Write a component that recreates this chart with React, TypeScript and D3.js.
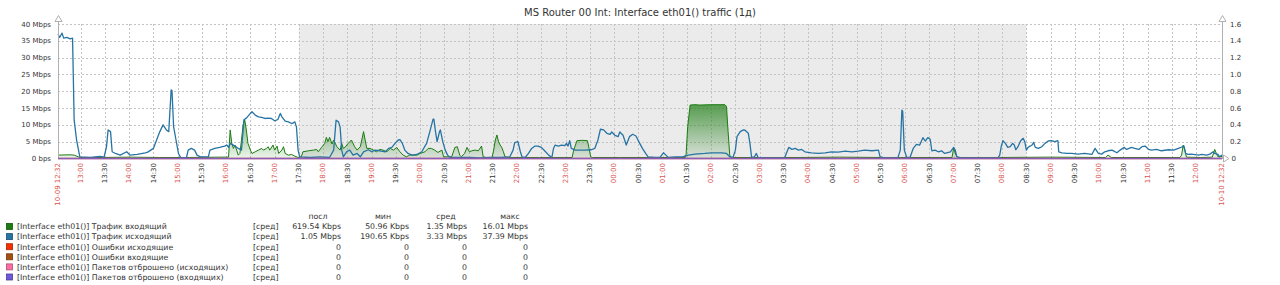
import React from "react";
import * as d3 from "d3";

const W = 1280;
const H = 285;

const chartTitle = "MS Router 00 Int: Interface eth01() traffic (1д)";
const startTime = new Date(2023, 9, 9, 12, 32);
const periodMinutes = 1440;
// non-working time shading, minutes from start (17:30 .. 08:30)
const shadeMinutes = [298, 1198];

const leftTicks = [0, 5, 10, 15, 20, 25, 30, 35, 40];
const rightTicks = [0, 0.2, 0.4, 0.6, 0.8, 1.0, 1.2, 1.4, 1.6];

// [minutes from start, Mbps]
const outTraffic: [number, number][] = [
  [0, 37.0], [2, 36.0], [5, 37.3], [7, 35.8], [11, 36.0], [15, 35.6], [18, 35.8], [20, 11.4], [23, 5.5], [27, 0.5],
  [40, 0.3], [52, 0.6], [57, 0.4], [60, 3.5], [62, 8.5], [65, 8.0], [67, 2.0], [71, 1.5], [77, 1.0], [85, 2.0],
  [89, 1.0], [98, 1.2], [108, 1.7], [111, 1.9], [118, 3.0], [122, 5.5], [126, 8.0], [130, 10.0], [134, 8.5], [137, 8.0],
  [140, 20.4], [141, 20.2], [143, 9.5], [146, 5.5], [149, 1.5], [152, 0.2], [159, 0.3], [161, 2.5], [165, 3.0], [169, 2.5],
  [172, 1.0], [176, 0.5], [186, 0.5], [188, 2.5], [194, 3.0], [200, 3.3], [206, 3.7], [209, 4.0], [211, 3.3], [213, 4.5],
  [219, 3.7], [223, 3.0], [227, 2.5], [230, 11.5], [233, 12.0], [238, 13.4], [240, 13.9], [244, 12.9], [248, 12.4], [252, 12.2],
  [256, 11.9], [260, 12.0], [264, 11.9], [268, 11.2], [272, 11.6], [275, 13.4], [277, 12.4], [281, 11.1], [285, 10.9], [289, 10.4],
  [291, 10.6], [293, 10.9], [295, 9.4], [297, 2.5], [299, 0.5], [312, 0.3], [324, 0.5], [336, 0.3], [341, 2.5], [344, 11.4],
  [347, 10.9], [349, 9.4], [351, 2.5], [353, 0.5], [357, 2.0], [361, 2.5], [365, 1.0], [370, 1.5], [374, 0.5], [378, 2.0],
  [384, 2.6], [388, 2.0], [392, 2.5], [398, 2.3], [405, 2.0], [409, 3.0], [413, 3.3], [417, 4.5], [421, 5.5], [423, 5.6],
  [426, 4.5], [429, 2.5], [433, 1.5], [438, 1.0], [444, 1.2], [450, 2.0], [456, 4.5], [460, 8.0], [464, 11.7], [465, 11.7],
  [467, 8.0], [469, 5.0], [472, 8.0], [473, 8.5], [476, 5.0], [479, 2.5], [482, 1.0], [485, 0.3], [497, 0.3], [510, 0.3],
  [522, 0.2], [534, 0.3], [547, 0.3], [559, 0.5], [563, 2.5], [565, 4.7], [569, 5.0], [572, 2.0], [574, 0.5], [578, 0.3],
  [582, 1.5], [586, 3.0], [590, 3.7], [594, 3.7], [598, 3.3], [602, 2.3], [607, 1.0], [611, 0.3], [613, 3.0], [615, 4.0],
  [619, 3.7], [623, 4.0], [627, 3.8], [629, 4.5], [631, 3.7], [633, 5.3], [635, 3.0], [640, 2.5], [652, 2.5], [660, 2.6],
  [664, 3.0], [668, 5.5], [671, 8.7], [675, 8.5], [679, 7.5], [683, 7.2], [685, 7.9], [689, 6.9], [693, 6.5], [695, 7.9],
  [699, 6.9], [703, 4.0], [707, 6.5], [711, 7.2], [715, 6.7], [719, 4.8], [723, 3.0], [727, 1.5], [730, 0.5], [739, 0.3],
  [745, 0.4], [749, 1.7], [752, 1.0], [755, 0.3], [764, 0.5], [773, 0.5], [776, 0.8], [780, 1.0], [788, 1.3], [800, 1.5],
  [809, 1.7], [821, 1.7], [827, 1.5], [831, 0.5], [835, 0.3], [838, 2.5], [840, 6.5], [844, 8.0], [848, 8.5], [850, 8.4],
  [854, 7.5], [856, 4.5], [858, 0.5], [861, 0.3], [864, 1.5], [866, 0.3], [881, 0.2], [899, 0.2], [901, 1.5], [904, 3.3],
  [908, 2.7], [912, 3.0], [916, 2.5], [920, 2.7], [924, 2.0], [932, 1.7], [941, 1.5], [949, 1.7], [957, 2.0], [965, 1.9],
  [974, 2.2], [982, 2.0], [990, 2.2], [998, 2.5], [1007, 2.3], [1015, 2.5], [1017, 0.5], [1023, 0.2], [1039, 0.2], [1042, 2.5],
  [1044, 14.4], [1045, 14.0], [1047, 2.5], [1050, 0.3], [1054, 0.3], [1058, 3.0], [1062, 4.2], [1066, 4.0], [1070, 6.2], [1073, 5.2],
  [1076, 6.2], [1079, 5.7], [1081, 2.3], [1085, 2.5], [1089, 2.0], [1093, 2.3], [1097, 1.5], [1104, 2.0], [1108, 3.3], [1110, 2.5],
  [1112, 0.5], [1118, 0.2], [1141, 0.2], [1163, 0.2], [1165, 1.0], [1167, 3.7], [1169, 5.3], [1172, 4.5], [1175, 3.3], [1178, 3.5],
  [1181, 4.5], [1183, 4.0], [1185, 2.6], [1188, 3.7], [1191, 5.3], [1194, 6.0], [1196, 5.0], [1198, 2.5], [1200, 3.3], [1205, 4.0],
  [1207, 4.8], [1209, 3.3], [1213, 3.0], [1217, 3.5], [1221, 4.5], [1225, 5.2], [1229, 5.3], [1233, 5.0], [1237, 5.3], [1238, 2.0],
  [1242, 1.7], [1248, 1.5], [1254, 1.5], [1262, 1.3], [1270, 1.5], [1279, 1.2], [1283, 3.0], [1287, 1.5], [1291, 1.3], [1295, 2.0],
  [1299, 2.3], [1304, 2.5], [1310, 1.7], [1314, 2.5], [1319, 3.3], [1322, 2.7], [1328, 3.3], [1332, 3.0], [1337, 2.7], [1341, 3.5],
  [1345, 3.7], [1349, 2.7], [1353, 2.5], [1359, 2.7], [1365, 2.3], [1374, 2.6], [1380, 2.5], [1386, 3.0], [1391, 3.5], [1393, 3.7],
  [1395, 1.5], [1398, 1.2], [1402, 1.3], [1411, 1.0], [1415, 1.2], [1421, 1.0], [1425, 1.3], [1429, 2.0], [1431, 1.5], [1435, 1.2],
  [1437, 0.5], [1440, 1.05],
];

const inTraffic: [number, number][] = [
  [0, 1.0], [15, 1.1], [20, 1.0], [25, 0.5], [27, 0.3], [52, 0.3], [89, 0.4], [126, 0.3], [163, 0.3], [200, 0.4],
  [211, 0.4], [212, 4.5], [213, 8.5], [215, 4.5], [217, 3.0], [219, 4.0], [221, 2.5], [223, 1.0], [225, 1.5], [227, 5.5],
  [229, 10.0], [231, 11.5], [233, 8.5], [235, 4.5], [238, 2.5], [240, 1.5], [244, 2.0], [248, 2.5], [252, 3.0], [254, 2.5],
  [258, 3.0], [260, 3.5], [262, 2.5], [266, 4.0], [268, 2.5], [271, 3.7], [273, 1.5], [277, 2.5], [279, 3.5], [281, 1.5],
  [285, 1.0], [289, 1.2], [293, 0.7], [297, 0.3], [301, 0.5], [303, 2.0], [310, 2.3], [316, 2.5], [320, 2.7], [322, 2.0],
  [326, 3.3], [330, 4.5], [332, 6.3], [334, 5.0], [336, 6.3], [339, 4.3], [341, 5.5], [345, 3.5], [349, 2.5], [351, 4.5],
  [353, 3.0], [355, 3.3], [359, 4.5], [363, 5.5], [367, 3.5], [370, 2.5], [374, 3.5], [378, 8.0], [380, 5.5], [382, 3.0],
  [386, 3.0], [390, 2.5], [394, 2.0], [398, 2.7], [402, 2.5], [407, 2.0], [411, 3.0], [415, 2.5], [419, 3.3], [423, 2.0],
  [427, 1.0], [431, 0.5], [435, 1.0], [444, 1.0], [448, 1.5], [454, 2.0], [458, 3.0], [462, 3.0], [466, 2.5], [470, 1.8],
  [475, 2.5], [477, 0.5], [487, 0.5], [491, 3.3], [494, 3.5], [497, 1.0], [499, 0.5], [503, 1.5], [506, 3.3], [509, 2.0],
  [512, 2.3], [516, 2.5], [520, 2.3], [524, 3.7], [526, 0.5], [530, 0.3], [537, 0.3], [539, 2.5], [541, 5.5], [543, 7.0],
  [545, 5.0], [547, 4.0], [549, 3.3], [551, 2.0], [553, 0.5], [559, 0.3], [596, 0.3], [636, 0.3], [638, 2.5], [642, 5.3],
  [648, 5.4], [655, 5.3], [657, 3.0], [659, 0.5], [661, 0.3], [695, 0.3], [732, 0.3], [776, 0.3], [777, 1.0], [779, 9.5],
  [782, 15.9], [788, 16.0], [794, 15.9], [807, 16.0], [819, 16.0], [825, 16.01], [827, 15.5], [829, 8.0], [831, 1.0], [833, 0.3],
  [868, 0.3], [918, 0.3], [967, 0.4], [1017, 0.3], [1042, 0.3], [1091, 0.3], [1106, 0.3], [1108, 3.0], [1111, 1.0], [1113, 0.3],
  [1165, 0.3], [1227, 0.4], [1296, 0.3], [1299, 1.0], [1303, 0.3], [1388, 0.3], [1390, 1.0], [1392, 4.0], [1394, 2.5], [1396, 0.4],
  [1413, 0.3], [1428, 0.4], [1431, 2.7], [1433, 1.5], [1435, 0.5], [1440, 0.62],
];

const legendNames = [
  "[Interface eth01()] Трафик входящий",
  "[Interface eth01()] Трафик исходящий",
  "[Interface eth01()] Ошибки исходящие",
  "[Interface eth01()] Ошибки входящие",
  "[Interface eth01()] Пакетов отброшено (исходящих)",
  "[Interface eth01()] Пакетов отброшено (входящих)",
];
const legendColors = ["#1A7C11", "#2774A4", "#F63100", "#A54F10", "#FC6EA3", "#6C59DC"];
const legendHeaders = ["посл", "мин", "сред", "макс"];
const legendLast = ["619.54 Kbps", "1.05 Mbps", "0", "0", "0", "0"];
const legendMin = ["50.96 Kbps", "190.65 Kbps", "0", "0", "0", "0"];
const legendAvg = ["1.35 Mbps", "3.33 Mbps", "0", "0", "0", "0"];
const legendMax = ["16.01 Mbps", "37.39 Mbps", "0", "0", "0", "0"];

const FONT = "DejaVu Sans, sans-serif";

export default function App() {
  const left = 58;
  const right = 1222;
  const top = 24;
  const bottom = 158.5;

  const toDate = (m: number) => new Date(startTime.getTime() + m * 60000);
  const endTime = toDate(periodMinutes);

  const x = d3.scaleTime().domain([startTime, endTime]).range([left, right]);
  const y = d3.scaleLinear().domain([0, 40]).range([bottom, top]);
  const yR = d3.scaleLinear().domain([0, 1.6]).range([bottom, top]);

  const ticks = x
    .ticks(d3.timeMinute.every(30) as d3.TimeInterval)
    .filter((t) => endTime.getTime() - t.getTime() > 10 * 60000);
  const fmtHM = d3.timeFormat("%H:%M");
  const fmtEdge = d3.timeFormat("%m-%d %H:%M");

  const line = d3
    .line<[number, number]>()
    .x((d) => x(toDate(d[0])))
    .y((d) => y(d[1]));
  const area = d3
    .area<[number, number]>()
    .x((d) => x(toDate(d[0])))
    .y0(y(0))
    .y1((d) => y(d[1]));

  const zeroSeries: [number, number][] = [
    [0, 0],
    [periodMinutes, 0],
  ];

  const legendTop = 226.5;
  const rowH = 10.1;
  const colRights = [341, 409, 467, 528];
  const headerCenters = [318, 383, 446, 510];
  const colValues = [legendLast, legendMin, legendAvg, legendMax];

  const xLabel = (d: Date, red: boolean, label: string, key: string) => {
    const px = x(d);
    return (
      <text
        key={key}
        transform={`translate(${px + 2.3},163) rotate(-90)`}
        textAnchor="end"
        fontFamily={FONT}
        fontSize={7}
        fill={red ? "#d9534f" : "#333"}
      >
        {label}
      </text>
    );
  };

  return (
    <svg
      width={W}
      height={H}
      style={{ position: "absolute", left: 0, top: 0, display: "block", background: "#fff" }}
    >
      <defs>
        <linearGradient id="inGrad" gradientUnits="userSpaceOnUse" x1={0} y1={80} x2={0} y2={bottom}>
          <stop offset="0" stopColor="#1A7C11" stopOpacity={1} />
          <stop offset="1" stopColor="#1A7C11" stopOpacity={0.08} />
        </linearGradient>
      </defs>
      <rect x={0} y={0} width={W} height={H} fill="#fff" />

      {/* title */}
      <text x={640} y={16} textAnchor="middle" fontFamily={FONT} fontSize={10} fill="#333">
        {chartTitle}
      </text>

      {/* non-working time */}
      <rect
        x={x(toDate(shadeMinutes[0]))}
        y={top}
        width={x(toDate(shadeMinutes[1])) - x(toDate(shadeMinutes[0]))}
        height={bottom - top}
        fill="#ebebeb"
      />

      {/* grid */}
      {leftTicks.slice(1).map((v) => (
        <line
          key={"h" + v}
          x1={left}
          x2={right}
          y1={Math.round(y(v)) + 0.5}
          y2={Math.round(y(v)) + 0.5}
          stroke="#c4c4c4"
          strokeWidth={1}
          strokeDasharray="2,2"
        />
      ))}
      {ticks.map((t, i) => (
        <line
          key={"v" + i}
          x1={Math.round(x(t)) + 0.5}
          x2={Math.round(x(t)) + 0.5}
          y1={top}
          y2={bottom}
          stroke="#c4c4c4"
          strokeWidth={1}
          strokeDasharray="2,2"
        />
      ))}

      {/* incoming: gradient area */}
      <path d={area(inTraffic) || ""} fill="url(#inGrad)" />
      <path d={line(inTraffic) || ""} fill="none" stroke="#1A7C11" strokeWidth={1} />
      {/* outgoing */}
      <path d={line(outTraffic) || ""} fill="none" stroke="#2774A4" strokeWidth={1.3} strokeLinejoin="round" />

      {/* axes */}
      <line x1={left + 0.5} x2={left + 0.5} y1={19} y2={bottom} stroke="#b0b0b0" />
      <line x1={right + 0.5} x2={right + 0.5} y1={19} y2={bottom} stroke="#b0b0b0" />
      <line x1={left} x2={right + 3} y1={bottom} y2={bottom} stroke="#b0b0b0" />
      <path d={`M${left - 3},21.5 L${left + 0.5},15.5 L${left + 4},21.5 Z`} fill="#fff" stroke="#b0b0b0" />
      <path d={`M${right - 3},21.5 L${right + 0.5},15.5 L${right + 4},21.5 Z`} fill="#fff" stroke="#b0b0b0" />
      <path d={`M${right + 1.5},${bottom - 3.5} L${right + 7},${bottom} L${right + 1.5},${bottom + 3.5} Z`} fill="#fff" stroke="#b0b0b0" />

      {/* zero-valued series */}
      {legendColors.slice(2).map((c, i) => (
        <path
          key={"z" + i}
          d={line(zeroSeries) || ""}
          fill="none"
          stroke={c}
          strokeWidth={1.6}
          strokeOpacity={i === 3 ? 0.7 : 0.4}
        />
      ))}

      {/* left axis labels */}
      {leftTicks.map((v) => (
        <text
          key={"l" + v}
          x={51}
          y={y(v) + 2.5}
          textAnchor="end"
          fontFamily={FONT}
          fontSize={7}
          fill="#333"
        >
          {v === 0 ? "0 bps" : `${v} Mbps`}
        </text>
      ))}
      {/* right axis labels */}
      {rightTicks.map((v) => (
        <text
          key={"r" + v}
          x={v === 0 ? 1231.5 : 1230}
          y={yR(v) + 2.5}
          fontFamily={FONT}
          fontSize={7}
          fill="#333"
        >
          {v === 0 ? "0" : d3.format(".1f")(v)}
        </text>
      ))}

      {/* x labels */}
      {xLabel(startTime, true, fmtEdge(startTime), "start")}
      {ticks.map((t, i) => xLabel(t, t.getMinutes() === 0, fmtHM(t), "t" + i))}
      {xLabel(endTime, true, fmtEdge(endTime), "end")}

      {/* legend */}
      {legendHeaders.map((h, i) => (
        <text
          key={"hd" + i}
          x={headerCenters[i]}
          y={legendTop - rowH - 0.5 + 2.7}
          textAnchor="middle"
          fontFamily={FONT}
          fontSize={7.8}
          fill="#333"
        >
          {h}
        </text>
      ))}
      {legendNames.map((name, i) => {
        const cy = legendTop + i * rowH;
        return (
          <g key={"lg" + i}>
            <rect
              x={6.5}
              y={cy - 3}
              width={6}
              height={6}
              fill={legendColors[i]}
              stroke={d3.color(legendColors[i])!.darker(1).toString()}
              strokeWidth={0.8}
            />
            <text x={17} y={cy + 2.8} fontFamily={FONT} fontSize={7.8} fill="#333">
              {name}
            </text>
            <text x={253} y={cy + 2.8} fontFamily={FONT} fontSize={7.8} fill="#333">
              [сред]
            </text>
            {colValues.map((vals, j) => (
              <text
                key={"c" + j}
                x={colRights[j]}
                y={cy + 2.8}
                textAnchor="end"
                fontFamily={FONT}
                fontSize={7.8}
                fill="#333"
              >
                {vals[i]}
              </text>
            ))}
          </g>
        );
      })}
    </svg>
  );
}
